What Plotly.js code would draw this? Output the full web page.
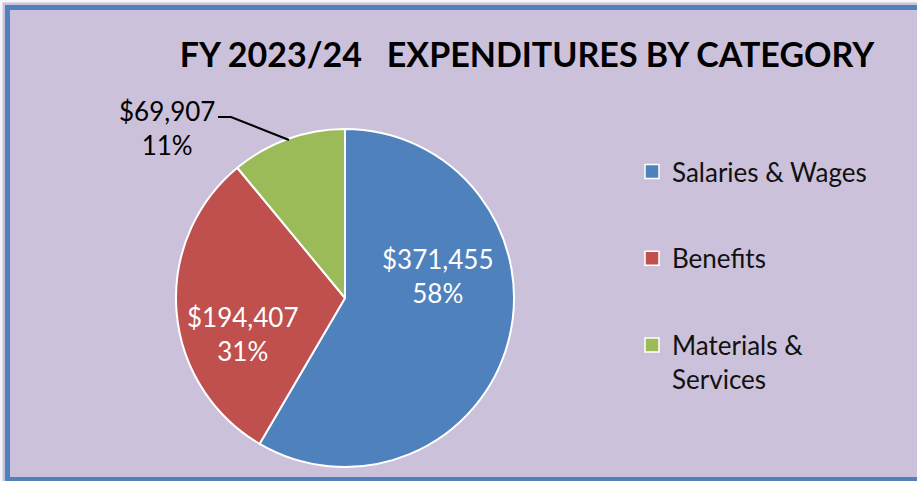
<!DOCTYPE html>
<html>
<head>
<meta charset="utf-8">
<script src="https://cdn.plot.ly/plotly-3.0.1.min.js"></script>
<style>
html,body{margin:0;padding:0;background:#ffffff;}
#chart{width:917px;height:481px;}
</style>
</head>
<body>
<div id="chart"></div>
<script>
var categories = ["Salaries & Wages", "Benefits", "Materials & Services"];
var legendNames = ["Salaries & Wages", "Benefits", "Materials &<br>Services"];
var values = [371455, 194407, 69907];
var colors = ["#4F81BD", "#C0504D", "#9BBB59"];
var labelColors = ["#ffffff", "#ffffff", "#000000"];
var titleText = "FY 2023/24&nbsp;&nbsp;&nbsp;EXPENDITURES BY CATEGORY";

var W = 917, H = 481;
function px(x){return x / W;}
function py(y){return 1 - y / H;}

var total = values.reduce(function(a,b){return a+b;},0);
var fontFam = "Lato, 'Open Sans', sans-serif";

var pie = {
  type: "pie",
  labels: categories,
  values: values,
  sort: false,
  direction: "clockwise",
  rotation: 0,
  marker: {colors: colors, line: {color: "#ffffff", width: 2}},
  textinfo: "none",
  hoverinfo: "label+value+percent",
  showlegend: false,
  domain: {x: [px(176), px(514)], y: [py(467), py(129)]}
};

// legend swatches, one per category (no plotted points)
var legendTraces = categories.map(function(c, i){
  return {
    type: "scatter", mode: "markers", x: [null], y: [null],
    name: legendNames[i], legendgroup: "g" + i, showlegend: true,
    marker: {symbol: "square", size: 14, color: colors[i], line: {color: "#ffffff", width: 1.5}},
    hoverinfo: "skip"
  };
});

// data-label anchor points (pixel positions of label centres)
var labelPos = [[437, 276], [242, 334], [167, 128]];
var annotations = values.map(function(v, i){
  return {
    text: "$" + v.toLocaleString("en-US") + "<br>" + Math.round(v / total * 100) + "%",
    x: px(labelPos[i][0]), y: py(labelPos[i][1]), xref: "paper", yref: "paper",
    xanchor: "center", yanchor: "middle",
    showarrow: false, align: "center",
    font: {family: fontFam, size: 26, color: labelColors[i]}
  };
});

var layout = {
  width: W, height: H,
  margin: {l: 0, r: 0, t: 0, b: 0},
  paper_bgcolor: "#CCC1DA",
  plot_bgcolor: "rgba(0,0,0,0)",
  showlegend: true,
  xaxis: {visible: false, domain: [0, 0.01]},
  yaxis: {visible: false, domain: [0, 0.01]},
  title: {text: "<b>" + titleText + "</b>", x: px(527), xanchor: "center", y: py(55), yanchor: "middle",
          font: {family: fontFam, size: 34, color: "#000000"}},
  legend: {x: px(632), xanchor: "left", y: py(148), yanchor: "top", bgcolor: "rgba(0,0,0,0)",
           valign: "top", tracegroupgap: 50,
           font: {family: fontFam, size: 26, color: "#111111"}},
  annotations: annotations,
  shapes: [
    {type: "path", xref: "paper", yref: "paper",
     path: "M " + px(218) + "," + py(117) + " L " + px(231) + "," + py(117) + " L " + px(289) + "," + py(140),
     line: {color: "#000000", width: 2}},
    {type: "rect", xref: "paper", yref: "paper", x0: px(-10), x1: px(2.5), y0: py(-10), y1: py(491), fillcolor: "#F4F7FA", line: {width: 0}},
    {type: "rect", xref: "paper", yref: "paper", x0: px(-10), x1: px(930), y0: py(2.5), y1: py(-10), fillcolor: "#F4F7FA", line: {width: 0}},
    {type: "rect", xref: "paper", yref: "paper", x0: px(7.5), x1: px(930), y0: py(7.5), y1: py(479.5),
     line: {color: "#4F81BD", width: 5}}
  ]
};

Plotly.newPlot("chart", [pie].concat(legendTraces), layout, {displayModeBar: false, staticPlot: true});
</script>
</body>
</html>
